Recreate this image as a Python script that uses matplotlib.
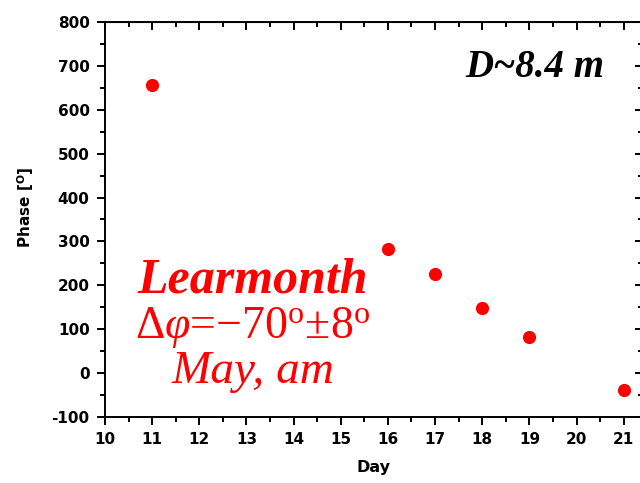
import numpy as np
import matplotlib.pyplot as plt
from matplotlib.ticker import MultipleLocator

plt.rcParams['font.family'] = ['DejaVu Sans']
plt.rcParams['axes.unicode_minus'] = False
plt.rcParams['mathtext.fontset'] = 'custom'
plt.rcParams['mathtext.rm'] = 'Liberation Serif'
plt.rcParams['mathtext.it'] = 'Liberation Serif:italic'
plt.rcParams['mathtext.bf'] = 'DejaVu Sans:bold'

day = [11, 16, 17, 18, 19, 21]
phase = [656, 282, 225, 149, 83, -39]

fig = plt.figure(figsize=(6.4, 4.83), dpi=100)
ax = fig.add_axes([0.164, 0.1366, 0.84, 0.818])

ax.plot(day, phase, 'o', color='#ff0000', markersize=9.5, markeredgewidth=0)

ax.set_xlim(10, 21.4)
ax.set_ylim(-100, 800)
ax.xaxis.set_major_locator(MultipleLocator(1))
ax.xaxis.set_minor_locator(MultipleLocator(0.5))
ax.yaxis.set_major_locator(MultipleLocator(100))
ax.yaxis.set_minor_locator(MultipleLocator(50))

for s in ax.spines.values():
    s.set_linewidth(1.4)
ax.tick_params(which='both', direction='out', width=1.4, top=False, right=False,
               labelsize=11, pad=5)
ax.tick_params(which='major', length=6)
ax.tick_params(which='minor', length=3.5)
for lab in ax.get_xticklabels() + ax.get_yticklabels():
    lab.set_fontweight('bold')

# mirrored ticks on top and right, pointing inward
sec_x = ax.secondary_xaxis('top')
sec_x.xaxis.set_major_locator(MultipleLocator(1))
sec_x.xaxis.set_minor_locator(MultipleLocator(0.5))
sec_x.tick_params(which='both', direction='in', width=1.4, labeltop=False)
sec_x.tick_params(which='major', length=6)
sec_x.tick_params(which='minor', length=3.5)
sec_y = ax.secondary_yaxis('right')
sec_y.yaxis.set_major_locator(MultipleLocator(100))
sec_y.yaxis.set_minor_locator(MultipleLocator(50))
sec_y.tick_params(which='both', direction='in', width=1.4, labelright=False)
sec_y.tick_params(which='major', length=6)
sec_y.tick_params(which='minor', length=3.5)

ax.set_xlabel('Day', fontsize=11.5, fontweight='bold', labelpad=9)
ax.set_ylabel(r'Phase [$^{\mathbf{O}}$]', fontsize=11, fontweight='bold', labelpad=11)
ax.yaxis.label.set_y(0.53)

ax.text(0.80, 0.861, 'D~8.4 m', transform=ax.transAxes, ha='center', va='baseline',
        fontsize=28, fontweight='bold', fontstyle='italic', family='Liberation Serif')

red = '#ff0000'
ax.text(0.275, 0.316, 'Learmonth', transform=ax.transAxes, ha='center', va='baseline',
        fontsize=36, fontweight='bold', fontstyle='italic', family='Liberation Serif',
        color=red)
ax.text(0.275, 0.200, r'$\mathit{Δφ}$=−70$^{\mathrm{o}}$±8$^{\mathrm{o}}$',
        transform=ax.transAxes, ha='center', va='baseline', fontsize=33,
        family='Liberation Serif', color=red)
ax.text(0.275, 0.086, 'May, am', transform=ax.transAxes, ha='center', va='baseline',
        fontsize=34, fontstyle='italic', family='Liberation Serif', color=red)

plt.savefig('out.png', dpi=100)
